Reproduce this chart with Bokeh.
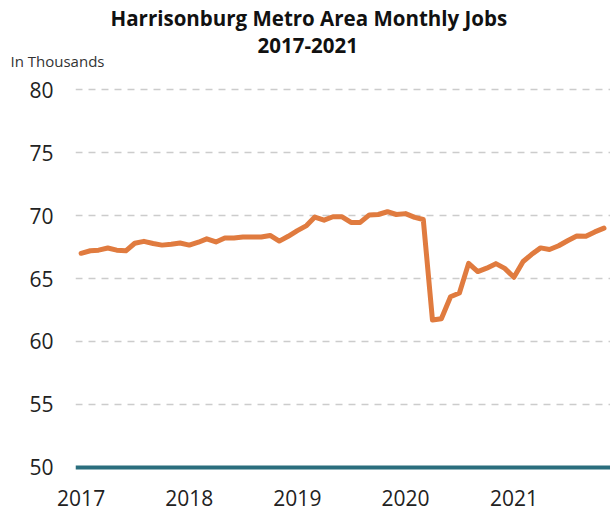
import pandas as pd
from bokeh.plotting import figure
from bokeh.models import Span, Title, FixedTicker, DatetimeTickFormatter, Range1d
from bokeh.embed import file_html
from bokeh.resources import INLINE

months = pd.date_range("2017-01-01", "2021-11-01", freq="MS")
jobs = [
    67.0, 67.2, 67.25, 67.42, 67.25, 67.2, 67.8, 67.95, 67.78, 67.65, 67.72, 67.82,
    67.65, 67.88, 68.15, 67.9, 68.22, 68.22, 68.3, 68.3, 68.3, 68.42, 67.97, 68.35,
    68.8, 69.2, 69.88, 69.63, 69.9, 69.9, 69.45, 69.45, 70.05, 70.08, 70.3, 70.08,
    70.15, 69.85, 69.68, 61.7, 61.8, 63.55, 63.85, 66.2, 65.55, 65.82, 66.18, 65.8,
    65.1, 66.35, 66.9, 67.43, 67.3, 67.6, 68.0, 68.38, 68.35, 68.7, 69.0,
]
year_ticks = ["2017-01-01", "2018-01-01", "2019-01-01", "2020-01-01", "2021-01-01"]
y_ticks = [50, 55, 60, 65, 70, 75, 80]
title_line1 = "Harrisonburg Metro Area Monthly Jobs"
title_line2 = "2017-2021"
unit_label = "In Thousands"

FONT = "Open Sans"

p = figure(
    width=610, height=512, output_backend="svg", toolbar_location=None,
    x_axis_type="datetime",
    x_range=Range1d(pd.Timestamp("2016-12-13"), pd.Timestamp("2021-11-23")),
    y_range=Range1d(49.6, 80.4),
    min_border_left=75, min_border_right=0, min_border_top=80, min_border_bottom=40,
)
p.outline_line_color = None
p.background_fill_color = "white"
p.border_fill_color = "white"

p.line(months, jobs, line_color="#E07B3F", line_width=5, line_join="round", line_cap="round")

p.add_layout(Span(location=50, dimension="width", line_color="#2A6E7D", line_width=4))

# axes
p.xaxis.ticker = FixedTicker(ticks=[pd.Timestamp(t).value / 1e6 for t in year_ticks])
p.xaxis.formatter = DatetimeTickFormatter(
    years="%Y", months="%Y", days="%Y", hours="%Y", minutes="%Y",
    seconds="%Y", milliseconds="%Y", microseconds="%Y", hourmin="%Y", minsec="%Y",
)
p.yaxis.ticker = FixedTicker(ticks=y_ticks)
for ax in (p.xaxis[0], p.yaxis[0]):
    ax.axis_line_color = None
    ax.major_tick_line_color = None
    ax.minor_tick_line_color = None
    ax.major_tick_out = 0
    ax.minor_tick_out = 0
    ax.major_label_text_font = FONT
    ax.major_label_text_font_size = "21px"
    ax.major_label_text_color = "#222222"
p.xaxis.major_label_standoff = 17
p.yaxis.major_label_standoff = 22

p.xgrid.grid_line_color = None
p.ygrid.ticker = FixedTicker(ticks=[55, 60, 65, 70, 75, 80])
p.ygrid.grid_line_color = "#cccccc"
p.ygrid.grid_line_width = 1.6
p.ygrid.grid_line_dash = "7 6"

# titles: first added "above" sits closest to the plot frame
p.add_layout(Title(text=unit_label, align="left", offset=-65, standoff=28,
                   text_font=FONT, text_font_style="normal", text_font_size="15px",
                   text_color="#333333"), "above")
p.add_layout(Title(text=title_line2, align="left", offset=182, standoff=-36,
                   text_font=FONT, text_font_style="bold", text_font_size="20.5px",
                   text_color="#111111"), "above")
p.add_layout(Title(text=title_line1, align="left", offset=35, standoff=4.4,
                   text_font=FONT, text_font_style="bold", text_font_size="20.5px",
                   text_color="#111111"), "above")

open("out.html", "w").write(file_html(p, INLINE))
